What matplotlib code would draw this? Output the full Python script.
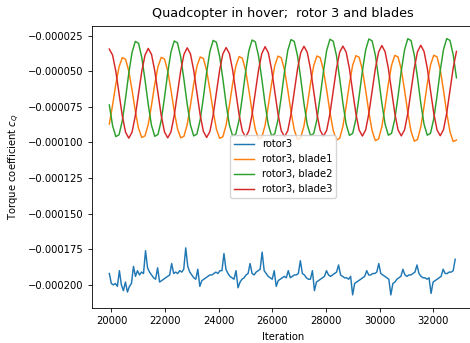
import numpy as np
import matplotlib.pyplot as plt

# torque coefficients are stored in units of 1e-6
SCALE = 1e-6

# blade signals sampled every 121 iterations
blade_iter = np.arange(19920, 32868, 121)

blade1 = [
    -87.1, -73.8, -59.1, -46.9, -40.5, -41.6, -49.9, -63.2, -77.9, -90.1, -96.5, -95.4,
    -87.3, -73.9, -59.1, -46.8, -40.3, -41.4, -49.8, -63.2, -78.0, -90.3, -96.8, -95.7,
    -87.5, -74.0, -59.0, -46.6, -40.0, -41.1, -49.6, -63.1, -78.1, -90.5, -97.1, -96.0,
    -87.8, -74.1, -58.9, -46.3, -39.7, -40.9, -49.4, -63.1, -78.3, -90.9, -97.5, -96.4,
    -88.1, -74.2, -58.9, -46.1, -39.4, -40.6, -49.2, -63.1, -78.4, -91.2, -97.9, -96.7,
    -88.4, -74.4, -58.9, -46.1, -39.3, -40.5, -49.2, -63.2, -78.7, -91.5, -98.3, -97.1,
    -88.7, -74.5, -58.9, -45.9, -39.1, -40.2, -49.0, -63.2, -78.8, -91.8, -98.7, -97.5,
    -89.0, -74.7, -58.9, -45.8, -38.9, -40.0, -48.9, -63.2, -79.0, -92.2, -99.1, -97.9,
    -89.3, -74.9, -58.9, -45.7, -38.8, -39.9, -48.9, -63.3, -79.3, -92.5, -99.4, -98.3,
]

blade2 = [
    -73.7, -88.2, -95.9, -94.6, -84.7, -68.9, -51.3, -36.8, -29.1, -30.4, -40.3, -56.1,
    -73.5, -88.0, -95.7, -94.4, -84.5, -68.6, -51.1, -36.5, -28.8, -30.1, -40.0, -55.9,
    -73.1, -87.7, -95.4, -94.1, -84.2, -68.3, -50.7, -36.1, -28.4, -29.7, -39.6, -55.5,
    -73.0, -87.7, -95.4, -94.1, -84.1, -68.2, -50.5, -35.8, -28.1, -29.4, -39.4, -55.4,
    -72.8, -87.5, -95.2, -93.9, -83.9, -67.9, -50.2, -35.5, -27.8, -29.1, -39.1, -55.1,
    -72.7, -87.4, -95.1, -93.8, -83.8, -67.8, -50.1, -35.4, -27.6, -28.9, -38.9, -54.9,
    -72.5, -87.2, -95.0, -93.7, -83.7, -67.6, -49.9, -35.2, -27.4, -28.7, -38.7, -54.8,
    -72.4, -87.1, -94.9, -93.6, -83.6, -67.5, -49.7, -35.0, -27.2, -28.5, -38.6, -54.6,
    -72.4, -87.1, -94.9, -93.6, -83.5, -67.5, -49.7, -34.9, -27.1, -28.4, -38.5, -54.6,
]

blade3 = [
    -34.5, -38.7, -50.1, -65.8, -81.4, -92.8, -97.0, -92.8, -81.4, -65.8, -50.1, -38.7,
    -34.0, -38.2, -49.7, -65.4, -81.1, -92.6, -96.8, -92.6, -81.1, -65.4, -49.7, -38.2,
    -33.6, -37.8, -49.3, -65.1, -80.8, -92.3, -96.5, -92.3, -80.8, -65.1, -49.3, -37.8,
    -33.4, -37.6, -49.1, -64.8, -80.5, -92.0, -96.2, -92.0, -80.5, -64.8, -49.1, -37.6,
    -32.8, -37.0, -48.6, -64.4, -80.2, -91.8, -96.0, -91.8, -80.2, -64.4, -48.6, -37.0,
    -32.5, -36.7, -48.3, -64.1, -79.9, -91.5, -95.7, -91.5, -79.9, -64.1, -48.3, -36.7,
    -32.4, -36.6, -48.2, -64.0, -79.7, -91.3, -95.5, -91.3, -79.7, -64.0, -48.2, -36.6,
    -32.0, -36.3, -47.9, -63.7, -79.6, -91.2, -95.4, -91.2, -79.6, -63.7, -47.9, -36.3,
    -31.8, -36.1, -47.7, -63.6, -79.4, -91.1, -95.3, -91.1, -79.4, -63.6, -47.7, -36.1,
]

# whole-rotor signal sampled every 75 iterations
rotor_iter = np.arange(19920, 32821, 75)

rotor = [
    -192, -199, -200, -199, -201, -190, -200, -204, -198, -205,
    -201, -199, -187, -194, -190, -193, -191, -192, -176, -188,
    -191, -193, -195, -196, -188, -198, -197, -196, -195, -194,
    -193, -185, -192, -191, -192, -190, -191, -189, -174, -187,
    -191, -193, -195, -196, -189, -201, -197, -196, -195, -194,
    -193, -193, -192, -191, -192, -190, -190, -178, -189, -192,
    -194, -195, -196, -190, -202, -198, -196, -195, -193, -192,
    -185, -192, -193, -191, -190, -189, -177, -190, -192, -194,
    -195, -196, -190, -201, -197, -196, -195, -194, -195, -190,
    -195, -194, -193, -193, -192, -183, -192, -193, -195, -196,
    -196, -190, -204, -198, -197, -196, -195, -194, -190, -193,
    -194, -193, -192, -191, -186, -193, -194, -195, -195, -196,
    -194, -207, -199, -198, -197, -196, -195, -194, -190, -193,
    -193, -192, -192, -191, -185, -192, -193, -194, -195, -196,
    -207, -199, -198, -196, -195, -194, -189, -193, -194, -193,
    -193, -192, -191, -186, -192, -194, -195, -195, -196, -195,
    -206, -198, -197, -196, -195, -194, -189, -192, -192, -191,
    -191, -190, -182,
]

fig = plt.figure(figsize=(4.7, 3.43), dpi=100)
ax = fig.add_axes([0.1957, 0.1029, 0.8124, 0.822])

lw = 1.05
ax.plot(rotor_iter, np.array(rotor) * SCALE, color='C0', lw=lw, label='rotor3')
ax.plot(blade_iter, np.array(blade1) * SCALE, color='C1', lw=lw, label='rotor3, blade1')
ax.plot(blade_iter, np.array(blade2) * SCALE, color='C2', lw=lw, label='rotor3, blade2')
ax.plot(blade_iter, np.array(blade3) * SCALE, color='C3', lw=lw, label='rotor3, blade3')

fs = 7.2
ax.set_title('Quadcopter in hover;  rotor 3 and blades', fontsize=9.2)
ax.set_xlabel('Iteration', fontsize=fs)
ax.set_ylabel('Torque coefficient $c_Q$', fontsize=fs)
ax.tick_params(labelsize=fs, width=0.6, length=2.6)
for s in ax.spines.values():
    s.set_linewidth(0.6)

ax.legend(loc='center', fontsize=fs)

plt.savefig('out.png', dpi=100)
